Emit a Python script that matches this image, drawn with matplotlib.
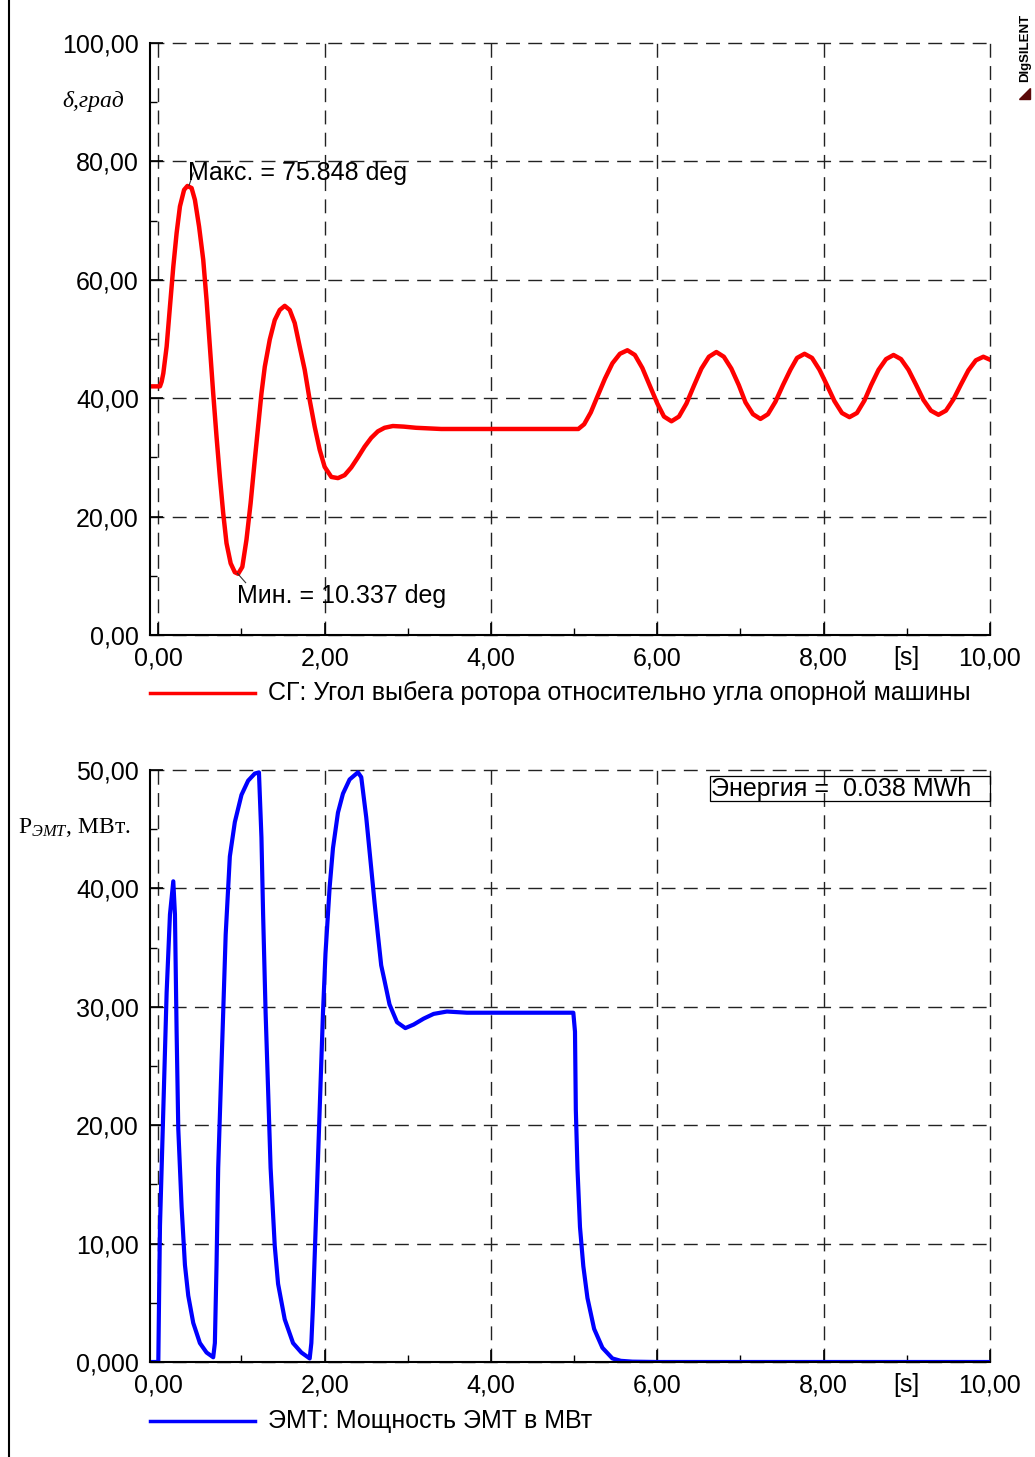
import matplotlib
matplotlib.use("Agg")
import matplotlib.pyplot as plt
from matplotlib.lines import Line2D
from matplotlib.patches import Rectangle, Polygon
from matplotlib.ticker import MultipleLocator, FuncFormatter

plt.rcParams['font.family'] = ['Liberation Sans', 'DejaVu Sans']
plt.rcParams['mathtext.fontset'] = 'custom'
plt.rcParams['mathtext.rm'] = 'Liberation Serif'
plt.rcParams['mathtext.it'] = 'Liberation Serif:italic'

FS = 18

# угол ротора СГ, град
t_delta = [-0.10, 0.00, 0.02, 0.04, 0.06, 0.10, 0.14, 0.18, 0.22, 0.26, 0.31, 0.35,
           0.40, 0.44, 0.49, 0.54, 0.58, 0.62, 0.66, 0.70, 0.74, 0.78, 0.82, 0.87,
           0.92, 0.96, 1.01, 1.06, 1.11, 1.16, 1.20, 1.24, 1.28, 1.34, 1.40, 1.46,
           1.52, 1.58, 1.64, 1.70, 1.76, 1.82, 1.88, 1.94, 2.00, 2.08, 2.16, 2.24,
           2.32, 2.40, 2.48, 2.56, 2.64, 2.72, 2.82, 2.95, 3.10, 3.40, 4.00, 4.50,
           5.05, 5.12, 5.20, 5.28, 5.37, 5.46, 5.55, 5.64, 5.73, 5.82, 5.91, 6.00,
           6.08, 6.17, 6.26, 6.35, 6.44, 6.53, 6.62, 6.71, 6.80, 6.89, 6.98, 7.06,
           7.15, 7.24, 7.33, 7.42, 7.51, 7.60, 7.68, 7.77, 7.86, 7.95, 8.04, 8.13,
           8.22, 8.31, 8.40, 8.49, 8.57, 8.66, 8.75, 8.84, 8.93, 9.02, 9.11, 9.20,
           9.29, 9.38, 9.47, 9.56, 9.65, 9.74, 9.83, 9.92, 10.00]
delta = [42.0, 42.0, 42.0, 42.8, 44.2, 48.7, 55.5, 62.2, 67.9, 72.4, 75.2, 75.848,
         75.5, 73.5, 69.0, 63.4, 56.6, 48.7, 40.8, 33.5, 26.7, 20.6, 15.5, 12.1,
         10.6, 10.337, 11.5, 16.1, 22.3, 29.6, 35.2, 40.8, 45.3, 49.9, 53.2, 54.9,
         55.6, 54.9, 52.7, 48.7, 44.8, 39.7, 35.2, 31.3, 28.4, 26.7, 26.5, 27.0,
         28.3, 30.0, 31.8, 33.3, 34.4, 35.0, 35.3, 35.2, 35.0, 34.8, 34.8, 34.8,
         34.8, 35.6, 37.6, 40.3, 43.3, 45.9, 47.5, 48.1, 47.3, 45.1, 42.1, 39.1,
         36.9, 36.1, 36.9, 39.1, 42.1, 45.0, 47.0, 47.8, 47.0, 45.0, 42.2, 39.3,
         37.3, 36.5, 37.3, 39.4, 42.2, 44.8, 46.8, 47.5, 46.8, 44.8, 42.2, 39.5,
         37.5, 36.8, 37.5, 39.6, 42.2, 44.8, 46.6, 47.3, 46.6, 44.8, 42.3, 39.7,
         37.9, 37.2, 37.9, 39.8, 42.3, 44.7, 46.4, 47.0, 46.5]

# мощность ЭМТ, МВт
t_p = [-0.10, 0.00, 0.01, 0.02, 0.06, 0.10, 0.14, 0.18, 0.20, 0.22, 0.24, 0.28,
       0.32, 0.36, 0.42, 0.50, 0.58, 0.66, 0.68, 0.70, 0.72, 0.75, 0.78, 0.81,
       0.86, 0.92, 1.00, 1.08, 1.16, 1.21, 1.24, 1.26, 1.29, 1.32, 1.35, 1.40,
       1.44, 1.52, 1.62, 1.72, 1.82, 1.84, 1.86, 1.90, 1.94, 1.98, 2.01, 2.06,
       2.10, 2.16, 2.22, 2.30, 2.40, 2.44, 2.50, 2.56, 2.60, 2.64, 2.68, 2.72,
       2.78, 2.87, 2.97, 3.07, 3.19, 3.31, 3.47, 3.71, 4.00, 4.50, 4.99, 5.01,
       5.02, 5.04, 5.07, 5.11, 5.16, 5.24, 5.34, 5.46, 5.56, 5.70, 6.00, 10.00]
p_emt = [0.0, 0.0, 6.0, 11.5, 21.3, 31.2, 37.8, 40.6, 37.8, 27.9, 19.7, 13.1,
         8.2, 5.6, 3.3, 1.6, 0.8, 0.4, 1.6, 8.2, 16.4, 23.0, 29.5, 36.1,
         42.7, 45.6, 47.9, 49.1, 49.7, 49.8, 44.3, 37.8, 29.5, 23.0, 16.4, 9.8,
         6.6, 3.6, 1.6, 0.8, 0.3, 1.6, 4.8, 13.0, 21.3, 29.5, 34.5, 40.1,
         43.4, 46.4, 48.0, 49.2, 49.8, 49.4, 46.0, 41.7, 38.8, 36.1, 33.5, 32.2,
         30.2, 28.7, 28.2, 28.5, 29.0, 29.4, 29.6, 29.5, 29.5, 29.5, 29.5, 27.9,
         21.3, 16.3, 11.4, 8.1, 5.4, 2.8, 1.2, 0.3, 0.1, 0.03, 0.0, 0.0]

d_max, t_max = 75.848, 0.35
d_min, t_min = 10.337, 0.96
energy = 0.038

W, H = 1035, 1457
fig = plt.figure(figsize=(W / 100, H / 100), dpi=100)


def fx(px):
    return px / W


def fy(py):
    return 1 - py / H


def comma(v, _):
    return f"{v:.2f}".replace('.', ',')


def setup(ax, ymax, ystep, zero_lbl):
    ax.set_xlim(-0.1, 10.0)
    ax.set_ylim(0, ymax)
    ax.xaxis.set_major_locator(MultipleLocator(2))
    ax.xaxis.set_minor_locator(MultipleLocator(1))
    ax.yaxis.set_major_locator(MultipleLocator(ystep))
    ax.yaxis.set_minor_locator(MultipleLocator(ystep / 2))
    ax.xaxis.set_major_formatter(FuncFormatter(comma))
    ax.yaxis.set_major_formatter(
        FuncFormatter(lambda v, _: zero_lbl if v == 0 else comma(v, _)))
    for s in ('top', 'right'):
        ax.spines[s].set_visible(False)
    for s in ('left', 'bottom'):
        ax.spines[s].set_linewidth(1.5)
    ax.tick_params(which='major', direction='in', length=9, width=1.2,
                   labelsize=FS, pad=8)
    ax.tick_params(which='minor', direction='in', length=5, width=1.0)
    ax.grid(True, which='major', color='#222222', lw=1.0, ls=(0, (10, 6)))
    for gl in ax.get_xgridlines() + ax.get_ygridlines():
        gl.set_clip_on(False)
    ax.set_axisbelow(True)
    ax.annotate('[s]', xy=(9, 0), xycoords=('data', 'axes fraction'),
                xytext=(0, -8), textcoords='offset points',
                ha='center', va='top', fontsize=FS)


ax1 = fig.add_axes([fx(150), fy(635), fx(990) - fx(150), fy(43) - fy(635)])
ax2 = fig.add_axes([fx(150), fy(1362), fx(990) - fx(150), fy(770) - fy(1362)])
setup(ax1, 100, 20, '0,00')
setup(ax2, 50, 10, '0,000')

ax1.plot(t_delta, delta, color='#ff0000', lw=3.2, solid_joinstyle='round')
ax2.plot(t_p, p_emt, color='#0000ff', lw=3.0, solid_joinstyle='round')

# подписи экстремумов
ax1.plot([t_max + 0.02, t_max + 0.07], [d_max + 0.1, d_max + 2.2],
         color='#333333', lw=0.8)
ax1.text(t_max + 0.01, 76.9, f"Макс. = {d_max:.3f} deg",
         fontsize=FS, ha='left', va='baseline')
ax1.plot([t_min - 0.01, t_min + 0.09], [d_min + 0.1, d_min - 1.5],
         color='#333333', lw=0.8)
ax1.text(t_min - 0.015, 5.4, f"Мин. = {d_min:.3f} deg",
         fontsize=FS, ha='left', va='baseline')

# энергия
fig.add_artist(Rectangle((fx(710), fy(801)), fx(990) - fx(710), fy(776) - fy(801),
                         fill=False, ec='black', lw=0.9))
fig.text(fx(711), fy(789), f"Энергия =  {energy:.3f} MWh", fontsize=FS,
         ha='left', va='center')

# подписи осей
fig.text(fx(93), fy(101), "δ,град", family='Liberation Serif', style='italic',
         fontsize=17, ha='center', va='center')
fig.text(fx(18), fy(828), r"P$_{\mathit{ЭМТ}}$, МВт.", family='Liberation Serif',
         fontsize=17, ha='left', va='center')

# легенды
fig.add_artist(Line2D([fx(150), fx(255)], [fy(693)] * 2, color='#ff0000', lw=2.5))
fig.text(fx(268), fy(693), "СГ: Угол выбега ротора относительно угла опорной машины",
         fontsize=FS, ha='left', va='center')
fig.add_artist(Line2D([fx(150), fx(255)], [fy(1421)] * 2, color='#0000ff', lw=2.5))
fig.text(fx(268), fy(1421), "ЭМТ: Мощность ЭМТ в МВт",
         fontsize=FS, ha='left', va='center')

# рамка и логотип
fig.add_artist(Line2D([fx(9)] * 2, [0, 1], color='black', lw=1.5))
fig.text(fx(1025), fy(48), "DIgSILENT", rotation=90, fontsize=9.5,
         fontweight='bold', ha='center', va='center')
fig.add_artist(Polygon([[fx(1019), fy(99)], [fx(1030), fy(99)], [fx(1030), fy(88)]],
                       closed=True, color='#5a0808', transform=fig.transFigure))

fig.savefig('out.png', dpi=100)
